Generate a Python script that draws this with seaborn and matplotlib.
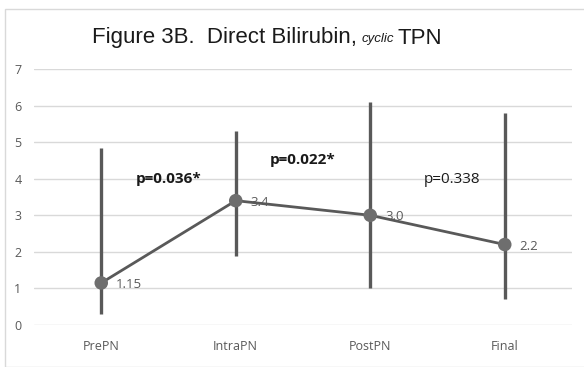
import matplotlib
matplotlib.use("Agg")
import matplotlib.pyplot as plt
import seaborn as sns
import pandas as pd
from matplotlib.patches import Rectangle

categories = ["PrePN", "IntraPN", "PostPN", "Final"]
means = [1.15, 3.4, 3.0, 2.2]
lows = [0.3, 1.9, 1.0, 0.7]
highs = [4.85, 5.3, 6.1, 5.8]
labels = ["1.15", "3.4", "3.0", "2.2"]
pvals = ["p=0.036*", "p=0.022*", "p=0.338"]
pbold = [True, True, False]
yticks = [0, 1, 2, 3, 4, 5, 6, 7]

df = pd.DataFrame({"cat": categories, "mean": means, "low": lows, "high": highs})

sns.set_theme(style="white")
plt.rcParams['font.family'] = ['Open Sans', 'DejaVu Sans']

fig = plt.figure(figsize=(5.84, 3.67), dpi=100)
ax = fig.add_axes([34/584, 1 - 325/367, (572-34)/584, (325-69)/367])

xs = list(range(len(categories)))
ax.vlines(xs, df["low"], df["high"], color="#595959", linewidth=2.4, zorder=2)
sns.lineplot(x=xs, y=df["mean"], ax=ax, color="#595959", linewidth=2, zorder=3)
sns.scatterplot(x=xs, y=df["mean"], ax=ax, color="#6e6e6e", s=95, edgecolor="none", zorder=4)

for x, m, l in zip(xs, means, labels):
    ax.text(x + 0.11, m - 0.04, l, fontsize=9.5, color="#595959", va="center", ha="left")

ppos = [(0.5, 4.0), (1.5, 4.5), (2.61, 3.98)]
for (px, py), t, b in zip(ppos, pvals, pbold):
    ax.text(px, py, t, fontsize=11, color="#1a1a1a", ha="center", va="center",
            fontweight="bold" if b else "normal")

ax.set_xlim(-0.5, 3.5)
ax.set_ylim(0, 7)
ax.set_yticks(yticks)
ax.set_xticks(xs)
ax.set_xticklabels(categories)
ax.tick_params(axis="both", length=0, labelsize=9, labelcolor="#595959")
ax.tick_params(axis="x", pad=11)
ax.tick_params(axis="y", pad=9)
ax.grid(axis="y", color="#d9d9d9", linewidth=1)
ax.grid(axis="x", visible=False)
for s in ax.spines.values():
    s.set_visible(False)
ax.set_xlabel("")
ax.set_ylabel("")

ty = 1 - 38/367
fig.text(92/584, ty, "Figure 3B.  Direct Bilirubin,", fontsize=16, ha="left", va="center",
         family="Liberation Sans", color="#1a1a1a")
fig.text(362/584, ty - 0.004, "cyclic", fontsize=9.5, style="italic", ha="left", va="center",
         family="Liberation Sans", color="#1a1a1a")
fig.text(398/584, ty, "TPN", fontsize=16, ha="left", va="center",
         family="Liberation Sans", color="#1a1a1a")

fig.patches.append(Rectangle((5/584, 0), 1.2, 1 - 9/367, transform=fig.transFigure,
                             fill=False, edgecolor="#d9d9d9", linewidth=1))

fig.savefig("out.png", dpi=100)
